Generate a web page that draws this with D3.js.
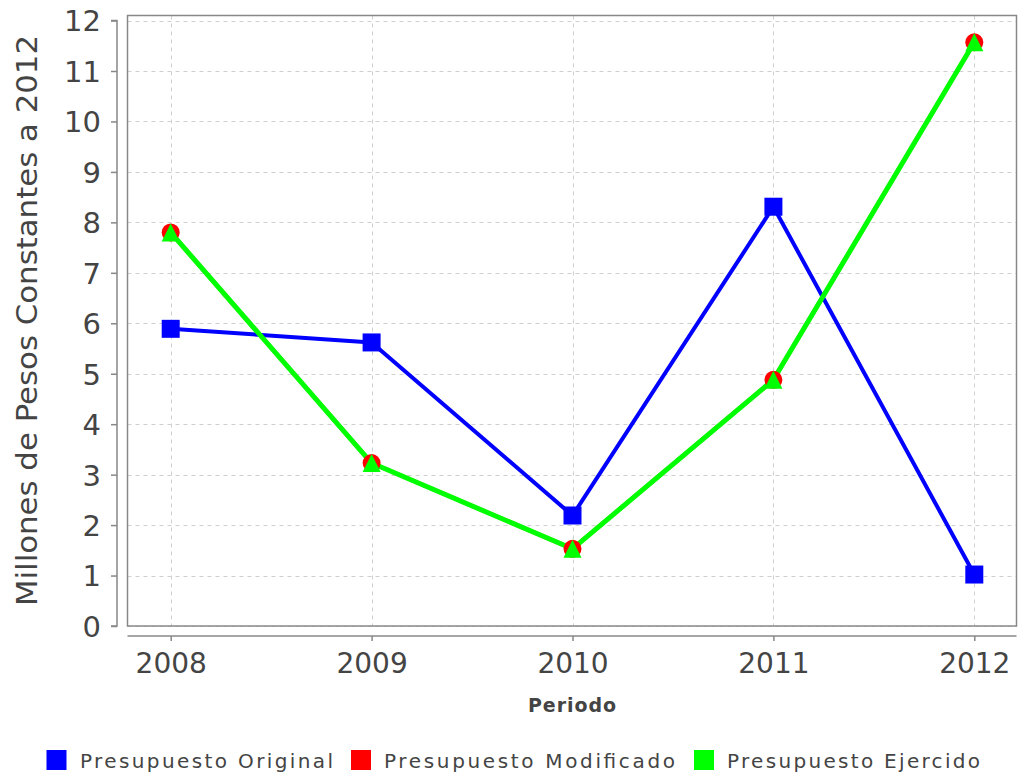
<!DOCTYPE html>
<html>
<head>
<meta charset="utf-8">
<script src="https://cdn.jsdelivr.net/npm/d3@7"></script>
<style>
  html, body { margin: 0; padding: 0; background: #fff; }
  svg { display: block; }
  text { font-family: "DejaVu Sans", sans-serif; fill: #444; }
</style>
</head>
<body>
<svg id="chart" width="1020" height="776"></svg>
<script>
const categories = ["2008", "2009", "2010", "2011", "2012"];
const seriesNames = ["Presupuesto Original", "Presupuesto Modificado", "Presupuesto Ejercido"];
const seriesColors = ["#0000ff", "#ff0000", "#00ff00"];
const original   = [5.89, 5.62, 2.19, 8.31, 1.02];
const modificado = [7.80, 3.23, 1.53, 4.88, 11.57];
const ejercido   = [7.80, 3.23, 1.53, 4.88, 11.57];
const yTicks = [0, 1, 2, 3, 4, 5, 6, 7, 8, 9, 10, 11, 12];
const yLabel = "Millones de Pesos Constantes a 2012";
const xLabel = "Periodo";

const svg = d3.select("#chart");
const plot = { left: 127.5, right: 1016.5, top: 15.5, bottom: 626 };

const x = d3.scalePoint().domain(categories).range([170.7, 974.3]);
const y = d3.scaleLinear().domain([0, 12.1]).range([plot.bottom, plot.top]);

// plot background
svg.append("rect")
  .attr("x", plot.left).attr("y", plot.top)
  .attr("width", plot.right - plot.left).attr("height", plot.bottom - plot.top)
  .attr("fill", "#fff");

// grid
const grid = svg.append("g").attr("stroke", "#d0d0d0").attr("stroke-width", 1).attr("stroke-dasharray", "4,4");
grid.selectAll("line.h").data(yTicks).join("line")
  .attr("x1", plot.left).attr("x2", plot.right)
  .attr("y1", d => Math.round(y(d)) + 0.5).attr("y2", d => Math.round(y(d)) + 0.5);
grid.selectAll("line.v").data(categories).join("line")
  .attr("y1", plot.top).attr("y2", plot.bottom)
  .attr("x1", d => Math.round(x(d)) + 0.5).attr("x2", d => Math.round(x(d)) + 0.5);

// plot outline
svg.append("rect")
  .attr("x", plot.left).attr("y", plot.top)
  .attr("width", plot.right - plot.left).attr("height", plot.bottom - plot.top)
  .attr("fill", "none").attr("stroke", "#888").attr("stroke-width", 1.5);

// y axis
const yAxis = d3.axisLeft(y).tickValues(yTicks).tickSize(6).tickPadding(10).tickFormat(d3.format("d"));
const gy = svg.append("g").attr("transform", "translate(117,0)").call(yAxis);
gy.select(".domain").attr("stroke", "#888").attr("stroke-width", 1.5)
  .attr("d", `M-6,${y(12)}H0V${plot.bottom}H-6`);
gy.selectAll(".tick line").attr("stroke", "#888").attr("stroke-width", 1.5);
gy.selectAll(".tick text").style("font-size", "29px").style("fill", "#444")
  .attr("font-family", "DejaVu Sans").attr("dy", "0.36em");

// x axis
const xAxis = d3.axisBottom(x).tickSize(5).tickPadding(12);
const gx = svg.append("g").attr("transform", "translate(0,636)").call(xAxis);
gx.select(".domain").attr("stroke", "#888").attr("stroke-width", 1.5)
  .attr("d", `M${plot.left},0H${plot.right}`);
gx.selectAll(".tick line").attr("stroke", "#888").attr("stroke-width", 1.5);
gx.selectAll(".tick text").style("font-size", "28px").style("fill", "#444")
  .attr("font-family", "DejaVu Sans");

// axis labels
svg.append("text")
  .attr("transform", `translate(36.5,${(35 + 606) / 2}) rotate(-90)`)
  .attr("text-anchor", "middle")
  .style("font-size", "28px")
  .attr("textLength", 571).attr("lengthAdjust", "spacingAndGlyphs")
  .text(yLabel);

svg.append("text")
  .attr("x", (plot.left + plot.right) / 2).attr("y", 712)
  .attr("text-anchor", "middle")
  .style("font-size", "19px").style("font-weight", "bold")
  .attr("textLength", 88).attr("lengthAdjust", "spacing")
  .text(xLabel);

// series
const allSeries = [original, modificado, ejercido];
const widths = [4, 4, 5];
const line = d3.line().x((d, i) => x(categories[i])).y(d => y(d));

allSeries.forEach((vals, s) => {
  svg.append("path").datum(vals)
    .attr("d", line)
    .attr("fill", "none")
    .attr("stroke", seriesColors[s])
    .attr("stroke-width", widths[s])
    .attr("stroke-linejoin", "round");
});

const sym = [
  d3.symbol().type(d3.symbolSquare).size(18 * 18),
  d3.symbol().type(d3.symbolCircle).size(Math.PI * 9 * 9),
  null
];
allSeries.forEach((vals, s) => {
  const g = svg.append("g").attr("fill", seriesColors[s]);
  g.selectAll("path").data(vals).join("path")
    .attr("transform", (d, i) => `translate(${x(categories[i])},${y(d)})`)
    .attr("d", d => s < 2 ? sym[s]() : "M0,-9L9,9L-9,9Z");
});

// legend
const legendItems = [
  { sq: 46.5, tx: 80, w: 253 },
  { sq: 351, tx: 384, w: 291 },
  { sq: 694, tx: 727, w: 253 }
];
const lg = svg.append("g");
seriesNames.forEach((name, i) => {
  lg.append("rect")
    .attr("x", legendItems[i].sq).attr("y", 750)
    .attr("width", 20).attr("height", 20)
    .attr("fill", seriesColors[i]);
  lg.append("text")
    .attr("x", legendItems[i].tx).attr("y", 768)
    .style("font-size", "20px")
    .attr("textLength", legendItems[i].w).attr("lengthAdjust", "spacing")
    .text(name);
});
</script>
</body>
</html>
